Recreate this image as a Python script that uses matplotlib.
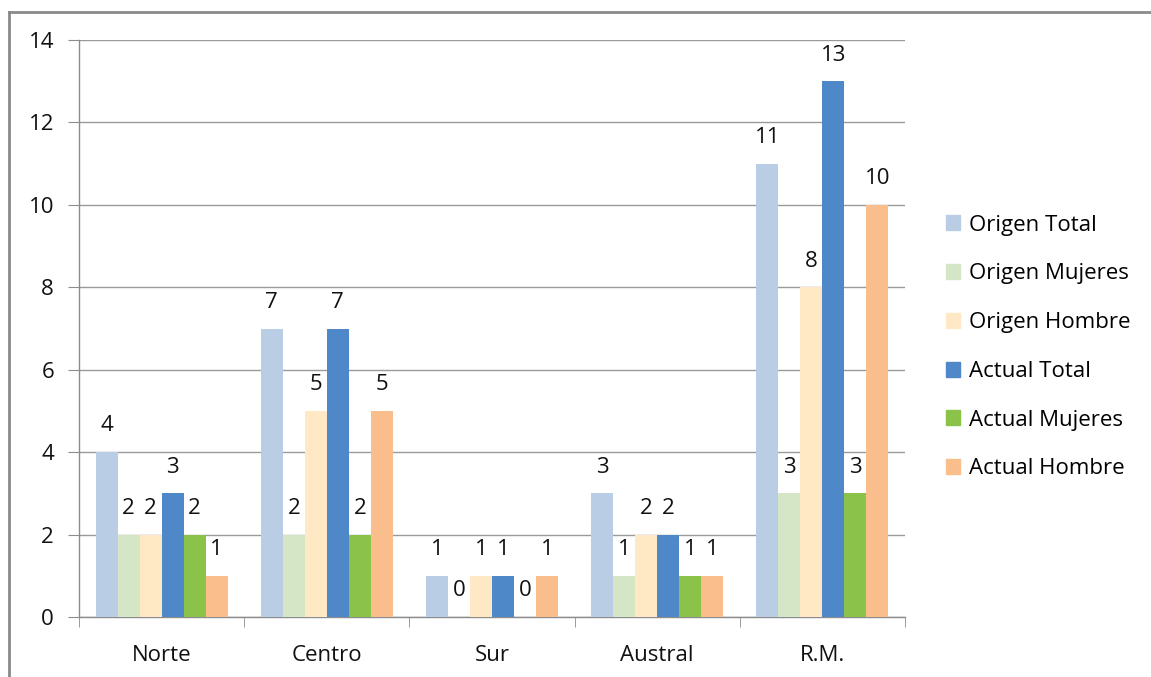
import matplotlib
matplotlib.use("Agg")
import matplotlib.pyplot as plt
import numpy as np
from matplotlib.patches import Rectangle
from matplotlib.lines import Line2D

categories = ["Norte", "Centro", "Sur", "Austral", "R.M."]
series_names = ["Origen Total", "Origen Mujeres", "Origen Hombre",
                "Actual Total", "Actual Mujeres", "Actual Hombre"]
origen_total = [4, 7, 1, 3, 11]
origen_mujeres = [2, 2, 0, 1, 3]
origen_hombre = [2, 5, 1, 2, 8]
actual_total = [3, 7, 1, 2, 13]
actual_mujeres = [2, 2, 0, 1, 3]
actual_hombre = [1, 5, 1, 1, 10]
series = [origen_total, origen_mujeres, origen_hombre,
          actual_total, actual_mujeres, actual_hombre]
colors = ["#B9CDE5", "#D4E6C5", "#FFE8C4", "#4F88C8", "#8BC34A", "#FABE8C"]
yticks = [0, 2, 4, 6, 8, 10, 12, 14]

plt.rcParams['font.family'] = ['Open Sans', 'DejaVu Sans']
FS = 16

fig = plt.figure(figsize=(11.51, 6.77), dpi=100)
ax = fig.add_axes([79/1151, 1-617/677, (905-79)/1151, (617-40)/677])

n = len(series)
group_w = 0.8
bw = group_w / n
x = np.arange(len(categories))
for i, (vals, c) in enumerate(zip(series, colors)):
    pos = x - group_w/2 + bw*(i+0.5)
    ax.bar(pos, vals, width=bw, color=c, zorder=3, label=series_names[i])
    for p, v in zip(pos, vals):
        ax.text(p, v + 0.38, str(v), ha='center', va='bottom', fontsize=FS, color='#111111', zorder=4)

ax.set_xlim(-0.5, len(categories)-0.5)
ax.set_ylim(0, 14)
ax.set_yticks(yticks)
ax.set_yticklabels([str(t) for t in yticks], fontsize=FS, color='#111111')
ax.set_xticks(x)
ax.set_xticklabels(categories, fontsize=FS, color='#111111')
ax.set_xticks(np.arange(len(categories)+1) - 0.5, minor=True)
ax.tick_params(axis='x', which='major', length=0, pad=20)
ax.tick_params(axis='x', which='minor', length=7, color='#8c8c8c', direction='out')
ax.tick_params(axis='y', length=8, color='#8c8c8c', direction='out', pad=10)
ax.grid(axis='y', color='#9a9a9a', linewidth=1, zorder=0)
for s in ['top', 'right']:
    ax.spines[s].set_visible(False)
for s in ['left', 'bottom']:
    ax.spines[s].set_color('#8c8c8c')
    ax.spines[s].set_linewidth(1)

handles = [Rectangle((0, 0), 1, 1, color=c) for c in colors]
leg = fig.legend(handles, series_names, loc='center left',
                 bbox_to_anchor=(926/1151, 1-347/677), frameon=False,
                 fontsize=FS, handlelength=0.65, handleheight=0.65,
                 handletextpad=0.4, labelspacing=1.25)

# outer frame lines
fig.add_artist(Line2D([9/1151, 9/1151], [0, 1-12/677], transform=fig.transFigure, color='#8a8a8a', linewidth=2))
fig.add_artist(Line2D([9/1151, 1], [1-12/677, 1-12/677], transform=fig.transFigure, color='#8a8a8a', linewidth=2))

fig.savefig("out.png", dpi=100)
